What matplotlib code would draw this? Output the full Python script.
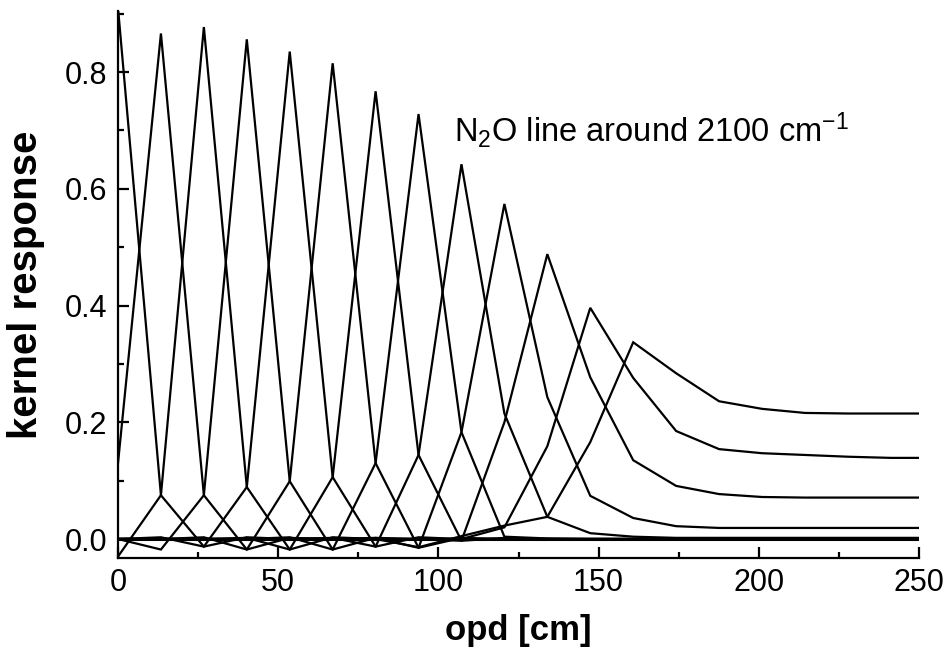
import matplotlib
matplotlib.use("Agg")
import matplotlib.pyplot as plt
from matplotlib.ticker import MultipleLocator, FormatStrFormatter

plt.rcParams['font.family'] = ['Liberation Sans', 'DejaVu Sans']
plt.rcParams['mathtext.fontset'] = 'custom'
plt.rcParams['mathtext.rm'] = 'Liberation Sans'
plt.rcParams['mathtext.it'] = 'Liberation Sans:italic'
plt.rcParams['mathtext.bf'] = 'Liberation Sans:bold'

# opd grid [cm]
opd = [0.0, 13.4, 26.8, 40.2, 53.6, 67.0, 80.4, 93.8, 107.2, 120.6,
       134.0, 147.4, 160.8, 174.2, 187.6, 201.0, 214.4, 227.8, 241.2, 254.6]

# kernel responses (one per retrieval level)
kernel_00 = [0.91, 0.075, -0.013, 0.003, 0.0, 0.0, 0.0, 0.0, 0.0, 0.0, 0.0, 0.0, 0.0, 0.0, 0.0, 0.0, 0.0, 0.0, 0.0, 0.0]
kernel_01 = [0.13, 0.866, 0.075, -0.018, 0.002, 0.0, 0.0, 0.0, 0.0, 0.0, 0.0, 0.0, 0.0, 0.0, 0.0, 0.0, 0.0, 0.0, 0.0, 0.0]
kernel_02 = [-0.03, 0.075, 0.877, 0.089, -0.018, 0.003, 0.0, 0.0, 0.0, 0.0, 0.0, 0.0, 0.0, 0.0, 0.0, 0.0, 0.0, 0.0, 0.0, 0.0]
kernel_03 = [0.0, -0.018, 0.075, 0.856, 0.099, -0.018, 0.002, 0.0, 0.0, 0.0, 0.0, 0.0, 0.0, 0.0, 0.0, 0.0, 0.0, 0.0, 0.0, 0.0]
kernel_04 = [0.0, 0.003, -0.013, 0.089, 0.835, 0.106, -0.013, 0.003, 0.0, 0.0, 0.0, 0.0, 0.0, 0.0, 0.0, 0.0, 0.0, 0.0, 0.0, 0.0]
kernel_05 = [0.0, 0.0, 0.003, -0.018, 0.099, 0.815, 0.130, -0.015, 0.002, 0.0, 0.0, 0.0, 0.0, 0.0, 0.0, 0.0, 0.0, 0.0, 0.0, 0.0]
kernel_06 = [0.0, 0.0, 0.0, 0.002, -0.018, 0.106, 0.767, 0.144, -0.003, 0.002, 0.0, 0.0, 0.0, 0.0, 0.0, 0.0, 0.0, 0.0, 0.0, 0.0]
kernel_07 = [0.0, 0.0, 0.0, 0.0, 0.003, -0.018, 0.130, 0.728, 0.183, 0.004, 0.001, 0.0, 0.0, 0.0, 0.0, 0.0, 0.0, 0.0, 0.0, 0.0]
kernel_08 = [0.0, 0.0, 0.0, 0.0, 0.0, 0.002, -0.013, 0.144, 0.642, 0.215, 0.038, 0.010, 0.004, 0.002, 0.002, 0.002, 0.002, 0.002, 0.002, 0.002]
kernel_09 = [0.0, 0.0, 0.0, 0.0, 0.0, 0.0, 0.002, -0.015, 0.183, 0.574, 0.243, 0.074, 0.036, 0.022, 0.019, 0.019, 0.019, 0.019, 0.019, 0.019]
kernel_10 = [0.0, 0.0, 0.0, 0.0, 0.0, 0.0, 0.0, 0.0, -0.003, 0.20, 0.488, 0.277, 0.135, 0.091, 0.077, 0.072, 0.071, 0.071, 0.071, 0.071]
kernel_11 = [0.0, 0.0, 0.0, 0.0, 0.0, 0.0, 0.0, 0.0, 0.0, 0.02, 0.159, 0.396, 0.276, 0.185, 0.154, 0.147, 0.144, 0.141, 0.139, 0.139]
kernel_12 = [0.0, 0.0, 0.0, 0.0, 0.0, 0.0, 0.0, -0.014, 0.005, 0.023, 0.038, 0.166, 0.337, 0.284, 0.236, 0.223, 0.216, 0.215, 0.215, 0.215]

kernels = [kernel_00, kernel_01, kernel_02, kernel_03, kernel_04, kernel_05,
           kernel_06, kernel_07, kernel_08, kernel_09, kernel_10, kernel_11, kernel_12]

fig = plt.figure(figsize=(9.43, 6.55), dpi=100)
ax = fig.add_axes([118 / 943, 97 / 655, 801 / 943, 547 / 655])

ax.axhline(0.0, color='black', lw=2.2, zorder=1)
for k in kernels:
    ax.plot(opd, k, color='black', lw=1.6, solid_joinstyle='miter', zorder=2)

ax.set_xlim(0, 250)
ax.set_ylim(-0.0325, 0.9045)

for s in ['top', 'right']:
    ax.spines[s].set_visible(False)
for s in ['left', 'bottom']:
    ax.spines[s].set_linewidth(1.6)

ax.xaxis.set_major_locator(MultipleLocator(50))
ax.xaxis.set_minor_locator(MultipleLocator(25))
ax.yaxis.set_major_locator(MultipleLocator(0.2))
ax.yaxis.set_minor_locator(MultipleLocator(0.1))
ax.yaxis.set_major_formatter(FormatStrFormatter('%.1f'))
ax.tick_params(which='major', direction='in', length=8, width=1.6, labelsize=22)
ax.tick_params(axis='y', which='major', pad=8)
ax.tick_params(axis='x', which='major', pad=7)
ax.tick_params(which='minor', direction='in', length=4, width=1.6)

ax.set_xlabel('opd [cm]', fontsize=25, fontweight='bold', labelpad=12)
ax.set_ylabel('kernel response', fontsize=29, fontweight='bold', labelpad=14)

ax.text(105, 0.68, 'N$_2$O line around 2100 cm$^{-1}$', fontsize=23.5,
        ha='left', va='baseline')

fig.savefig('out.png', dpi=100)
